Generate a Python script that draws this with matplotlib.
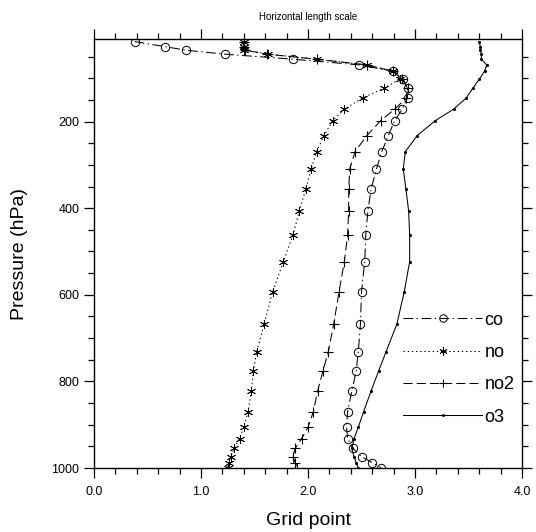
import matplotlib
matplotlib.use('Agg')
import matplotlib.pyplot as plt
from matplotlib.ticker import MultipleLocator, FormatStrFormatter

plt.rcParams['font.family'] = ['Liberation Sans', 'DejaVu Sans']
plt.rcParams['lines.scale_dashes'] = False

# model pressure levels (hPa)
lev = [15.2, 26.8, 35.1, 44.3, 55.9, 69.1, 83.6, 102.1, 122.9, 145.3, 171.4,
       197.7, 232.3, 269.3, 309.2, 355.4, 405.5, 461.7, 523.3, 592.6, 667.9,
       731.2, 775.8, 821.9, 869.7, 905.8, 932.3, 954.7, 973.7, 987.5, 999.1]

# horizontal length scale (grid point) per species
co = [0.38, 0.66, 0.86, 1.22, 1.86, 2.48, 2.79, 2.89, 2.93, 2.93, 2.88,
      2.81, 2.75, 2.69, 2.64, 2.59, 2.56, 2.54, 2.53, 2.50, 2.49,
      2.47, 2.45, 2.41, 2.37, 2.36, 2.37, 2.42, 2.50, 2.60, 2.68]
no = [1.40, 1.40, 1.40, 1.63, 2.08, 2.55, 2.79, 2.86, 2.71, 2.51, 2.34,
      2.23, 2.15, 2.08, 2.03, 1.98, 1.92, 1.86, 1.77, 1.67, 1.59,
      1.52, 1.49, 1.47, 1.44, 1.40, 1.36, 1.31, 1.28, 1.26, 1.25]
no2 = [1.40, 1.40, 1.41, 1.62, 2.08, 2.55, 2.79, 2.88, 2.93, 2.92, 2.81,
       2.68, 2.55, 2.44, 2.39, 2.38, 2.38, 2.37, 2.34, 2.29, 2.24,
       2.19, 2.14, 2.09, 2.05, 2.00, 1.94, 1.88, 1.86, 1.88, 1.90]
o3 = [3.60, 3.61, 3.61, 3.62, 3.62, 3.67, 3.65, 3.60, 3.54, 3.48, 3.36,
      3.19, 3.02, 2.91, 2.89, 2.915, 2.94, 2.95, 2.95, 2.90, 2.83,
      2.73, 2.66, 2.59, 2.52, 2.47, 2.43, 2.41, 2.43, 2.45, 2.47]

fig = plt.figure(figsize=(5.36, 5.32), dpi=100)
ax = fig.add_axes([0.1754, 0.1203, 0.7985, 0.8058])

lw = 0.75
ax.plot(co, lev, color='k', lw=lw, linestyle=(0, (7, 2.5, 1, 2.5)),
        marker='o', ms=6, mfc='none', mec='k', mew=0.7, label='co')
ax.plot(no, lev, color='k', lw=lw, linestyle=(0, (1, 2)),
        marker=(6, 2, 0), ms=6.5, mec='k', mew=0.6, label='no')
ax.plot(no2, lev, color='k', lw=lw, linestyle=(0, (6.5, 3)),
        marker='+', ms=7, mec='k', mew=0.8, label='no2')
ax.plot(o3, lev, color='k', lw=lw, linestyle='-',
        marker='.', ms=2.5, mec='k', label='o3')

ax.set_xlim(0, 4)
ax.set_ylim(1000, 10)
ax.xaxis.set_major_locator(MultipleLocator(1))
ax.xaxis.set_minor_locator(MultipleLocator(0.2))
ax.xaxis.set_major_formatter(FormatStrFormatter('%.1f'))
ax.yaxis.set_major_locator(MultipleLocator(200))
ax.yaxis.set_minor_locator(MultipleLocator(50))
ax.tick_params(which='both', direction='out', top=True, right=True,
               labelsize=9, width=0.9)
ax.tick_params(which='major', length=7)
ax.tick_params(which='minor', length=4)
ax.tick_params(axis='x', which='major', pad=6)
for s in ax.spines.values():
    s.set_linewidth(1.0)

ax.set_xlabel('Grid point', fontsize=14, labelpad=10)
ax.set_ylabel('Pressure (hPa)', fontsize=14, labelpad=17)
fig.text(308 / 536, 1 - 17 / 532, 'Horizontal length scale', fontsize=7,
         ha='center', va='center')

ax.legend(loc='upper left', bbox_to_anchor=(0.722, 0.365), frameon=False,
          fontsize=13, handlelength=4.4, handletextpad=0.12,
          labelspacing=0.85, borderpad=0, borderaxespad=0, markerscale=0.9)

fig.savefig('out.png', dpi=100)
